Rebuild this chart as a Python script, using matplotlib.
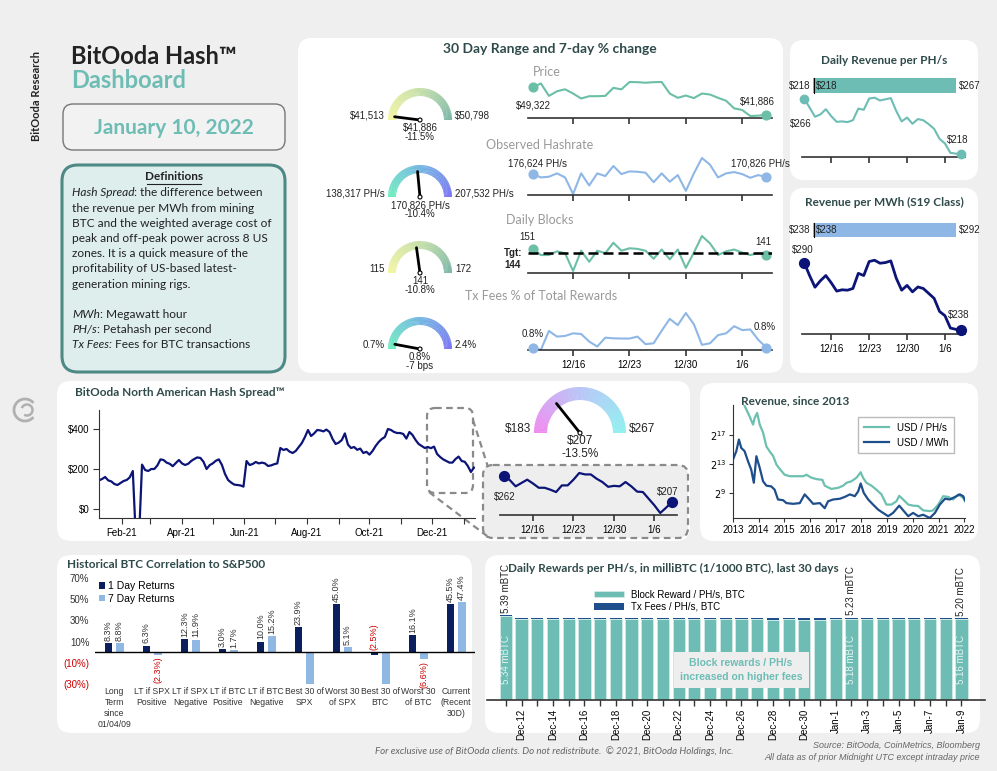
import numpy as np
import pandas as pd
import matplotlib
matplotlib.use("Agg")
import matplotlib.pyplot as plt
import matplotlib.dates as mdates
from matplotlib.patches import FancyBboxPatch, Rectangle, Wedge, Circle, Arc
from matplotlib.colors import LinearSegmentedColormap
from matplotlib.ticker import FuncFormatter

W, H = 997, 771
plt.rcParams["font.family"] = ["Liberation Sans", "DejaVu Sans"]
SANS = ["Lato", "DejaVu Sans"]

TEAL = "#6dbdb5"
SPARK = "#6bbfa7"
LBLUE = "#8fb7e6"
NAVY = "#0c1478"
TITLE = "#2f4a4a"

# ---------------- data ----------------
spark_ticks = [5, 12, 19, 26]
spark_tick_labels = ["12/16", "12/23", "12/30", "1/6"]

price = [49322, 50400, 47000, 48270, 48800, 47650, 46290, 46920, 46920, 47000,
         49200, 48780, 50798, 50750, 50600, 50750, 50798, 47650, 46480, 47100,
         46400, 47650, 47380, 46480, 45680, 43600, 43150, 41513, 41600, 41886]
hashrate = [176624, 170200, 171500, 178000, 170200, 138317, 178000, 154700, 178000, 172800,
            192200, 176600, 181800, 181100, 179200, 161000, 178000, 161800, 174700, 144300,
            178000, 207532, 194600, 170200, 178000, 180500, 176600, 169500, 174700, 170826]
blocks = [151, 141, 141, 147, 144, 115, 148, 130, 148, 144, 161, 148, 152, 151, 148,
          135, 150, 134, 150, 120, 145, 172, 160, 141, 147, 150, 145, 141, 144, 141]
block_target = 144
fee_pct = [0.80, 0.70, 1.57, 1.31, 1.34, 1.46, 1.43, 1.08, 0.85, 1.26, 1.23, 1.22, 1.22, 1.31, 0.96,
           1.00, 1.58, 2.13, 1.84, 2.40, 1.88, 0.93, 1.00, 1.38, 1.46, 1.79, 1.61, 1.64, 1.16, 0.80]
rev_phs = [265.6, 257.9, 250.0, 252.0, 256.5, 250.5, 245.6, 246.0, 245.4, 247.0,
           257.0, 256.0, 265.6, 266.4, 264.0, 265.0, 266.0, 255.0, 246.0, 249.3,
           244.0, 248.0, 247.0, 243.6, 239.6, 231.0, 227.0, 219.0, 218.3, 218.0]
rev_mwh = [290.0, 280.0, 271.0, 276.0, 280.0, 274.4, 268.0, 269.0, 268.7, 270.0,
           281.7, 280.0, 290.8, 291.8, 289.5, 290.0, 291.3, 278.0, 268.7, 272.4,
           267.4, 271.2, 270.0, 266.2, 262.4, 252.3, 249.0, 239.5, 238.5, 238.0]
spread_30d = [262, 253, 240, 247, 254, 246, 237, 237, 233, 228, 242, 242, 254, 268, 265,
              265, 256, 249, 239, 241, 240, 249, 240, 229, 228, 214, 200, 184, 195, 207]
# hash spread, one reading every 3 days from 2021-01-10
spread_start = "2021-01-10"
spread_1y = [143, 150, 160, 143, 138, 125, 120, 130, 140, 145, 158, 190, -150, -150, 222,
             195, 190, 200, 200, 218, 248, 245, 232, 226, 214, 230, 245, 228, 220, 226,
             240, 250, 258, 255, 236, 200, 219, 228, 241, 248, 220, 175, 145, 132, 122,
             120, 118, 112, 240, 220, 225, 235, 228, 232, 228, 215, 218, 224, 228, 305,
             295, 300, 287, 280, 290, 310, 330, 360, 395, 365, 378, 395, 393, 388, 397,
             385, 350, 325, 332, 345, 378, 322, 305, 310, 296, 302, 280, 286, 272, 290,
             315, 335, 350, 360, 400, 395, 385, 380, 380, 375, 352, 385, 370, 345, 325,
             315, 305, 310, 304, 312, 275, 260, 248, 240, 232, 232, 250, 262, 240, 236,
             215, 185, 207]

hist_phs_year = [2013.0, 2013.3, 2013.45, 2013.65, 2013.78, 2013.84, 2013.94, 2014.04, 2014.17, 2014.30,
                 2014.43, 2014.56, 2014.69, 2014.82, 2015.01, 2015.21, 2015.47, 2015.73, 2015.86, 2016.05,
                 2016.25, 2016.48, 2016.57, 2016.83, 2017.09, 2017.29, 2017.42, 2017.61, 2017.81, 2017.97,
                 2018.06, 2018.19, 2018.39, 2018.58, 2018.78, 2018.97, 2019.17, 2019.36, 2019.47, 2019.62,
                 2019.82, 2020.01, 2020.21, 2020.40, 2020.66, 2020.79, 2020.99, 2021.18, 2021.38, 2021.57,
                 2021.77, 2021.96, 2022.03]
hist_phs_log2 = [23.5, 22.5, 21.0, 19.5, 18.4, 19.3, 20.0, 18.4, 17.3, 15.4,
                 14.7, 14.1, 12.9, 12.3, 11.5, 11.3, 11.3, 11.3, 11.5, 11.1,
                 10.9, 10.8, 10.0, 9.55, 9.7, 10.0, 10.4, 10.6, 11.1, 11.85,
                 11.1, 10.4, 10.0, 9.45, 8.8, 7.4, 7.4, 7.85, 8.6, 8.1,
                 7.4, 7.25, 7.2, 6.6, 6.5, 6.6, 7.4, 8.55, 8.45, 8.1,
                 8.8, 8.3, 7.85]
hist_mwh_year = [2013.0, 2013.13, 2013.23, 2013.32, 2013.45, 2013.58, 2013.71, 2013.81, 2013.91, 2014.04,
                 2014.17, 2014.30, 2014.49, 2014.62, 2014.75, 2014.95, 2015.08, 2015.34, 2015.60, 2015.79,
                 2015.92, 2016.12, 2016.38, 2016.57, 2016.70, 2016.90, 2017.16, 2017.35, 2017.55, 2017.74,
                 2017.87, 2017.97, 2018.09, 2018.26, 2018.45, 2018.65, 2018.84, 2019.04, 2019.23, 2019.47,
                 2019.65, 2019.82, 2020.01, 2020.21, 2020.40, 2020.66, 2020.86, 2021.05, 2021.25, 2021.44,
                 2021.64, 2021.83, 2021.96, 2022.03]
hist_mwh_log2 = [13.6, 14.75, 16.35, 15.2, 14.75, 13.4, 12.2, 10.4, 14.05, 12.45,
                 10.6, 10.0, 9.9, 9.45, 8.1, 8.0, 7.6, 7.5, 7.6, 8.8,
                 8.3, 7.5, 7.6, 6.9, 7.85, 8.1, 8.2, 8.45, 8.8, 8.55,
                 9.2, 10.3, 9.0, 8.1, 7.4, 6.7, 6.25, 5.8, 6.25, 7.25,
                 6.5, 5.8, 6.25, 5.8, 6.0, 5.55, 6.25, 7.4, 8.2, 8.1,
                 8.45, 8.8, 8.55, 8.0]

corr_labels = ["Long\nTerm\nsince\n01/04/09", "LT if SPX\nPositive", "LT if SPX\nNegative",
               "LT if BTC\nPositive", "LT if BTC\nNegative", "Best 30 of\nSPX", "Worst 30\nof SPX",
               "Best 30 of\nBTC", "Worst 30\nof BTC", "Current\n(Recent\n30D)"]
corr_1d = [8.3, 6.3, 12.3, 3.0, 10.0, 23.9, 45.0, -2.5, 16.1, 45.5]
corr_7d = [8.8, -2.3, 11.9, 1.7, 15.2, -30.0, 5.1, -30.0, -6.6, 47.4]

reward_dates = pd.date_range("2021-12-11", "2022-01-09")
reward_block = [5.34, 5.17, 5.15, 5.16, 5.16, 5.15, 5.16, 5.17, 5.18, 5.16, 5.16, 5.17, 5.17, 5.16, 5.17,
                5.17, 5.15, 5.12, 5.13, 5.11, 5.12, 5.16, 5.18, 5.17, 5.16, 5.14, 5.15, 5.14, 5.15, 5.16]
reward_fee = [0.05, 0.04, 0.08, 0.07, 0.07, 0.08, 0.07, 0.06, 0.04, 0.07, 0.06, 0.06, 0.06, 0.07, 0.05,
              0.05, 0.08, 0.11, 0.10, 0.13, 0.10, 0.05, 0.05, 0.07, 0.08, 0.09, 0.08, 0.09, 0.06, 0.04]
reward_label_idx = [0, 22, 29]

# gauges: low, high, current, low label, high label, value label, change label
gauge_price = [41513, 50798, 41886, "$41,513", "$50,798", "$41,886", "-11.5%"]
gauge_hash = [138317, 207532, 170826, "138,317 PH/s", "207,532 PH/s", "170,826 PH/s", "-10.4%"]
gauge_blocks = [115, 172, 141, "115", "172", "141", "-10.8%"]
gauge_fees = [0.7, 2.4, 0.8, "0.7%", "2.4%", "0.8%", "-7 bps"]
gauge_spread = [183, 267, 207, "$183", "$267", "$207", "-13.5%"]

# ---------------- figure ----------------
fig = plt.figure(figsize=(W / 100, H / 100), dpi=100)
fig.patch.set_facecolor("#efefef")
bg = fig.add_axes([0, 0, 1, 1])
bg.set_xlim(0, W)
bg.set_ylim(H, 0)
bg.axis("off")


def px_axes(x0, y0, x1, y1):
    ax = fig.add_axes([x0 / W, 1 - y1 / H, (x1 - x0) / W, (y1 - y0) / H])
    ax.patch.set_alpha(0)
    return ax


def txt(x, y, s, **kw):
    kw.setdefault("va", "center")
    kw.setdefault("ha", "center")
    kw.setdefault("fontsize", 7)
    kw.setdefault("color", "#222222")
    return fig.text(x / W, 1 - y / H, s, **kw)


def panel(x0, y0, x1, y1, fc="white", ec="none", lw=0, r=14, ls="-"):
    bg.add_patch(FancyBboxPatch((x0, y0), x1 - x0, y1 - y0,
                                boxstyle=f"round,pad=0,rounding_size={r}",
                                fc=fc, ec=ec, lw=lw, ls=ls))


def gauge(cx, cy, r, w, colors, spec, fs=7, needle=0.8):
    lo, hi, val, lo_t, hi_t, v_t, c_t = spec
    cmap = LinearSegmentedColormap.from_list("g", colors)
    n = 90
    for i in range(n):
        a0 = 180 + 180 * i / n
        a1 = min(180 + 180 * (i + 1) / n + 0.6, 360)
        bg.add_patch(Wedge((cx, cy), r, a0, a1, width=w, color=cmap(i / (n - 1)), lw=0))
    ang = np.pi + np.pi * (val - lo) / (hi - lo)
    L = r * needle
    bg.plot([cx, cx + L * np.cos(ang)], [cy, cy + L * np.sin(ang)], color="black", lw=2,
            solid_capstyle="round")
    bg.add_patch(Circle((cx, cy), 2, fc="white", ec="black", lw=0.8, zorder=5))
    txt(cx - r - 3, cy - 4, lo_t, ha="right", fontsize=fs)
    txt(cx + r + 3, cy - 4, hi_t, ha="left", fontsize=fs)
    txt(cx, cy + 8, v_t, fontsize=fs)
    txt(cx, cy + 17 * fs / 7, c_t, fontsize=fs)


def spark(box, y, color, ylim, lw=1.5, labels=False, xlim=(-0.6, 29.7), ms=40):
    ax = px_axes(*box)
    x = np.arange(len(y))
    ax.plot(x, y, color=color, lw=lw)
    ax.scatter([x[0], x[-1]], [y[0], y[-1]], s=ms, color=color, zorder=3, clip_on=False)
    ax.set_xlim(*xlim)
    ax.set_ylim(*ylim)
    for s in ["left", "right", "top"]:
        ax.spines[s].set_visible(False)
    ax.spines["bottom"].set_color("#333333")
    ax.spines["bottom"].set_linewidth(1.2)
    ax.set_yticks([])
    ax.set_xticks(spark_ticks)
    ax.set_xticklabels(spark_tick_labels if labels else [])
    ax.tick_params(axis="x", length=4, width=1.2, color="#333333", labelsize=7, pad=3)
    return ax


# panels
panel(298, 38, 783, 373)
panel(790, 40, 978, 180)
panel(790, 188, 978, 373)
panel(57, 381, 690, 541)
panel(700, 383, 978, 541)
panel(57, 555, 472, 733)
panel(485, 555, 980, 733)

# ---------------- header ----------------
txt(37, 96, "BitOoda Research", rotation=90, fontsize=8, fontweight="bold", family=SANS)
txt(71, 56, "BitOoda Hash™", ha="left", fontsize=17, fontweight="bold", family=SANS)
txt(71, 80, "Dashboard", ha="left", fontsize=17, fontweight="bold", family=SANS, color=TEAL)
panel(63, 104, 285, 150, fc="#f2f2f2", ec="#777777", lw=1, r=10)
txt(174, 128, "January 10, 2022", fontsize=15, fontweight="bold", family=SANS, color=TEAL)

panel(62, 165, 285, 372, fc="#deeeed", ec="#4e8a85", lw=2.2, r=16)
txt(174, 177, "Definitions", fontsize=8.5, fontweight="bold", family=SANS)
bg.plot([147, 201], [184, 184], color="#222222", lw=0.8)

renderer = fig.canvas.get_renderer()


def mixed(x, y, parts):
    for s, style in parts:
        t = txt(x, y, s, ha="left", fontsize=8.6, family=SANS, style=style)
        x += t.get_window_extent(renderer=renderer).width


def_lines = [
    [("Hash Spread", "italic"), (": the difference between", "normal")],
    [("the revenue per MWh from mining", "normal")],
    [("BTC and the weighted average cost of", "normal")],
    [("peak and off-peak power across 8 US", "normal")],
    [("zones. It is a quick measure of the", "normal")],
    [("profitability of US-based latest-", "normal")],
    [("generation mining rigs.", "normal")],
    [],
    [("MWh", "italic"), (": Megawatt hour", "normal")],
    [("PH/s", "italic"), (": Petahash per second", "normal")],
    [("Tx Fees:", "italic"), (" Fees for BTC transactions", "normal")],
]
for k, parts in enumerate(def_lines):
    mixed(72, 193 + 15.2 * k, parts)

# logo
bg.add_patch(Arc((25, 410), 22, 22, theta1=40, theta2=320, color="#b0b0b0", lw=2))
bg.add_patch(Arc((27, 410), 11, 11, theta1=200, theta2=120, color="#b0b0b0", lw=1.8))

# ---------------- 30 day panel ----------------
txt(550, 49, "30 Day Range and 7-day % change", fontsize=10, fontweight="bold", family=SANS, color=TITLE)

warm = ["#f3f5a2", "#c6e0aa", "#7fb8a8"]
cool = ["#6fedc0", "#75b8e2", "#7a78f2"]
gauge(420, 120, 32, 8, warm, gauge_price)
gauge(420, 197, 32, 8, cool, gauge_hash)
gauge(420, 273, 32, 8, warm, gauge_blocks)
gauge(420, 349, 32, 8, cool, gauge_fees)

GREY = "#999999"
txt(547, 72, "Price", fontsize=9, family=SANS, color=GREY)
spark((528, 80, 772, 118), price, SPARK, (40967, 51344))
txt(533, 106, "$49,322")
txt(757, 102, "$41,886")

txt(540, 145, "Observed Hashrate", fontsize=9, family=SANS, color=GREY)
spark((528, 155, 772, 195), hashrate, LBLUE, (136394, 213301))
txt(538, 164, "176,624 PH/s")
txt(760, 164, "170,826 PH/s")

txt(540, 220, "Daily Blocks", fontsize=9, family=SANS, color=GREY)
axb = spark((528, 233, 772, 273), blocks, SPARK, (111.7, 176.9))
axb.axhline(block_target, color="black", lw=1.8, ls=(0, (4, 2)), zorder=4)
txt(527, 237, "151")
txt(763, 242, "141")
txt(513, 253, "Tgt:", fontweight="bold")
txt(513, 265, str(block_target), fontweight="bold")

txt(541, 296, "Tx Fees % of Total Rewards", fontsize=9, family=SANS, color=GREY)
spark((528, 310, 772, 350), fee_pct, LBLUE, (0.69, 2.54), labels=True)
txt(533, 334, "0.8%")
txt(765, 327, "0.8%")

# ---------------- right panels ----------------
txt(884, 61, "Daily Revenue per PH/s", fontsize=8.5, fontweight="bold", family=SANS, color=TITLE)
bg.add_patch(Rectangle((813, 78), 143, 15, fc=TEAL, lw=0))
bg.plot([813.5, 813.5], [78, 93], color="black", lw=0.8)
txt(810, 85.5, "$218", ha="right")
txt(816, 85.5, "$218", ha="left")
txt(959, 85.5, "$267", ha="left")
spark((802, 95, 965, 157), rev_phs, TEAL, (215.4, 268.7), lw=1.5, xlim=(-0.4, 29.7), ms=36)
txt(801, 124, "$266")
txt(958, 140, "$218")

txt(884, 202, "Revenue per MWh (S19 Class)", fontsize=8.5, fontweight="bold", family=SANS, color=TITLE)
bg.add_patch(Rectangle((813, 223), 143, 14, fc=LBLUE, lw=0))
bg.plot([813.5, 813.5], [223, 237], color="black", lw=0.8)
txt(810, 230, "$238", ha="right")
txt(816, 230, "$238", ha="left")
txt(959, 230, "$292", ha="left")
spark((802, 257, 965, 334), rev_mwh, NAVY, (234.9, 294.3), lw=2, labels=True, xlim=(-0.4, 29.7), ms=50)
txt(803, 250, "$290")
txt(959, 315, "$238")

# ---------------- hash spread ----------------
txt(75, 393, "BitOoda North American Hash Spread™", ha="left", fontsize=8.5, fontweight="bold",
    family=SANS, color=TITLE)
spread_dates = pd.date_range(spread_start, periods=len(spread_1y), freq="3D")
axs = px_axes(99, 410, 475, 518)
axs.plot(spread_dates, spread_1y, color=NAVY, lw=1.6)
axs.set_ylim(-45, 495)
axs.set_xlim(pd.Timestamp("2021-01-10"), pd.Timestamp("2022-01-12"))
axs.set_yticks([0, 200, 400])
axs.yaxis.set_major_formatter(FuncFormatter(lambda v, p: f"${v:.0f}"))
axs.xaxis.set_major_locator(mdates.MonthLocator())
axs.xaxis.set_major_formatter(FuncFormatter(
    lambda v, p: mdates.num2date(v).strftime("%b-%y") if mdates.num2date(v).month % 2 == 0 else ""))
for s in ["right", "top"]:
    axs.spines[s].set_visible(False)
for s in ["left", "bottom"]:
    axs.spines[s].set_color("#333333")
axs.tick_params(labelsize=7, length=4, color="#333333", pad=3)

# zoom box and inset
panel(427, 408, 473, 493, fc="none", ec="#8a8a8a", lw=1.6, r=8, ls=(0, (3, 2)))
bg.plot([473, 488], [420, 467], color="#8a8a8a", lw=1.6, ls=(0, (3, 2)))
bg.plot([429, 487], [492, 536], color="#8a8a8a", lw=1.6, ls=(0, (3, 2)))
panel(483, 465, 688, 538, fc="#eeeeee", ec="#8a8a8a", lw=1.6, r=10, ls=(0, (3, 2)))
spark((500, 470, 677, 515), spread_30d, NAVY, (179.8, 274.3), lw=1.6, labels=True,
      xlim=(-0.7, 29.9), ms=50)
txt(505, 497, "$262")
txt(668, 492, "$207")

gauge(580, 433, 46, 13, ["#f08cf0", "#b9c6f7", "#92f0f0"], gauge_spread, fs=8.5, needle=0.82)

# ---------------- revenue since 2013 ----------------
axr = px_axes(733, 405, 965, 518)
axr.plot(hist_phs_year, np.power(2.0, hist_phs_log2), color="#6cc0b0", lw=1.6, label="USD / PH/s")
axr.plot(hist_mwh_year, np.power(2.0, hist_mwh_log2), color="#1f4e8c", lw=1.6, label="USD / MWh")
axr.set_yscale("log", base=2)
axr.set_ylim(2 ** 5.55, 2 ** 21.1)
axr.set_xlim(2013, 2022.03)
axr.set_xticks(range(2013, 2023))
axr.set_yticks([2 ** 9, 2 ** 13, 2 ** 17])
axr.set_yticklabels(["$2^{9}$", "$2^{13}$", "$2^{17}$"])
axr.minorticks_off()
for s in ["right", "top"]:
    axr.spines[s].set_visible(False)
for s in ["left", "bottom"]:
    axr.spines[s].set_color("#333333")
axr.tick_params(labelsize=7, length=3, color="#333333", pad=2)
axr.legend(loc="upper right", bbox_to_anchor=(0.974, 0.938), fontsize=7, frameon=True,
           fancybox=False, edgecolor="#aaaaaa", handlelength=2.6, borderpad=0.6)
txt(741, 401, "Revenue, since 2013", ha="left", fontsize=8.5, fontweight="bold", family=SANS, color=TITLE)

# ---------------- correlation ----------------
txt(67, 564, "Historical BTC Correlation to S&P500", ha="left", fontsize=8.5, fontweight="bold",
    family=SANS, color=TITLE)
axc = px_axes(95, 578, 475, 684)
xc = np.arange(len(corr_labels))
axc.bar(xc - 0.145, corr_1d, width=0.21, color="#0b1f5e", label="1 Day Returns")
axc.bar(xc + 0.145, corr_7d, width=0.21, color="#8fb8e3", label="7 Day Returns")
axc.set_ylim(-30, 70)
axc.set_xlim(-0.5, len(corr_labels) - 0.5)
axc.axhline(0, color="black", lw=1)
for s in axc.spines.values():
    s.set_visible(False)
axc.set_xticks([])
ytk = [70, 50, 30, 10, -10, -30]
axc.set_yticks(ytk)
axc.set_yticklabels([f"{v}%" if v > 0 else f"({-v}%)" for v in ytk])
for lab, v in zip(axc.get_yticklabels(), ytk):
    lab.set_color("#cc0000" if v < 0 else "#333333")
axc.tick_params(axis="y", length=0, labelsize=7, pad=4)
for i in range(len(corr_labels)):
    for off, v, other in [(-0.145, corr_1d[i], corr_7d[i]), (0.145, corr_7d[i], corr_1d[i])]:
        if v <= -30:
            continue
        if v >= 0:
            axc.text(i + off, v + 2, f"{v:.1f}%", rotation=90, ha="center", va="bottom",
                     fontsize=6.5, color="#333333")
        elif other <= -30:
            axc.text(i + off, 2, f"({-v:.1f}%)", rotation=90, ha="center", va="bottom",
                     fontsize=6.5, color="#cc0000")
        else:
            axc.text(i + off, v - 2, f"({-v:.1f}%)", rotation=90, ha="center", va="top",
                     fontsize=6.5, color="#cc0000")
    axc.text(i, -33, corr_labels[i], ha="center", va="top", fontsize=6.2, color="#333333",
             linespacing=1.3, clip_on=False)
axc.legend(loc="upper left", bbox_to_anchor=(-0.015, 1.06), fontsize=7.5, frameon=False,
           handlelength=0.6, handleheight=0.6, handletextpad=0.3, labelspacing=0.25)

# ---------------- daily rewards ----------------
txt(508, 568, "Daily Rewards per PH/s, in milliBTC (1/1000 BTC), last 30 days", ha="left",
    fontsize=8.5, fontweight="bold", family=SANS, color=TITLE)
axw = px_axes(487, 590, 985, 700)
xw = np.arange(len(reward_block))
axw.bar(xw, reward_block, width=0.78, color=TEAL, edgecolor="#d6eeeb", lw=0.5,
        label="Block Reward / PH/s, BTC")
axw.bar(xw, reward_fee, bottom=reward_block, width=0.78, color="#1f4e8c", lw=0,
        label="Tx Fees / PH/s, BTC")
axw.set_xlim(-1.2, 30.5)
axw.set_ylim(0, 7.0)
for s in ["left", "right", "top"]:
    axw.spines[s].set_visible(False)
axw.spines["bottom"].set_color("#333333")
axw.spines["bottom"].set_linewidth(1.2)
axw.set_yticks([])
axw.set_xticks(xw)
axw.set_xticklabels([d.strftime("%b-%-d") if k % 2 == 1 else "" for k, d in enumerate(reward_dates)],
                    rotation=90)
axw.tick_params(axis="x", length=4, width=1, color="#333333", labelsize=7, pad=2)
for k in reward_label_idx:
    tot = reward_block[k] + reward_fee[k]
    axw.text(k, tot + 0.15, f"{tot:.2f} mBTC", rotation=90, ha="center", va="bottom", fontsize=7,
             color="#222222")
    axw.text(k, 2.6, f"{reward_block[k]:.2f} mBTC", rotation=90, ha="center", va="center",
             fontsize=7, color="#e6f4f2")
axw.legend(loc="upper left", bbox_to_anchor=(0.21, 1.035), fontsize=7, frameon=True, fancybox=False,
           edgecolor="white", facecolor="white", framealpha=1, handlelength=3.0, handleheight=0.6,
           borderpad=0.3, labelspacing=0.3, borderaxespad=0)
txt(741, 670, "Block rewards / PH/s\nincreased on higher fees", fontsize=7.5, color=TEAL,
    fontweight="bold", linespacing=1.4,
    bbox=dict(boxstyle="square,pad=0.6", fc="#eeeeee", ec="none"))

# ---------------- footer ----------------
txt(554, 751, "For exclusive use of BitOoda clients. Do not redistribute.  © 2021, BitOoda Holdings, Inc.",
    fontsize=7, style="italic", color="#666666", family=SANS)
txt(980, 746, "Source: BitOoda, CoinMetrics, Bloomberg", ha="right", fontsize=6.5, style="italic",
    color="#666666")
txt(980, 757, "All data as of prior Midnight UTC except intraday price", ha="right", fontsize=6.5,
    style="italic", color="#666666")

fig.savefig("out.png", dpi=100, facecolor=fig.get_facecolor())
